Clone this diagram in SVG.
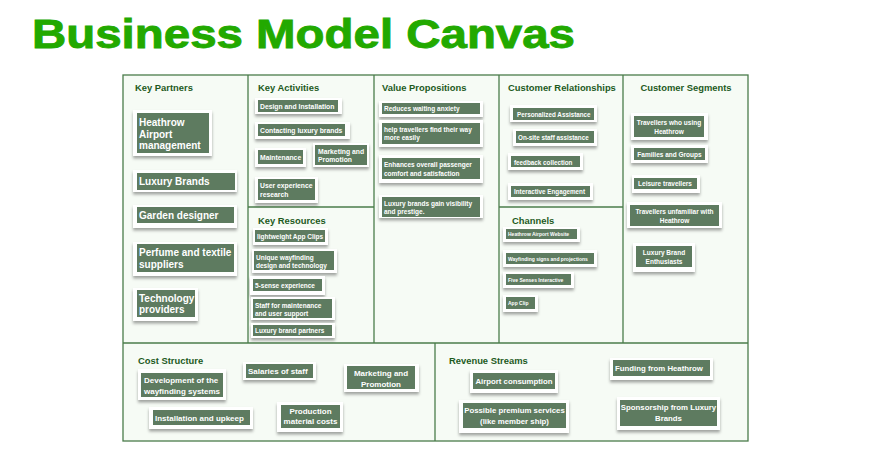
<svg xmlns="http://www.w3.org/2000/svg" width="872" height="468" viewBox="0 0 872 468">
<defs>
<filter id="sh" x="-10%" y="-20%" width="120%" height="170%">
<feDropShadow dx="0" dy="2.5" stdDeviation="1.5" flood-color="#000" flood-opacity="0.35"/>
</filter>
</defs>
<style>
.title{font-family:"Liberation Sans",Arial,sans-serif;font-weight:bold;font-size:41px;fill:#22a900;stroke:#22a900;stroke-width:0.9px}
.cell{fill:#f6fbf5;stroke:#4a7c4a;stroke-width:1.3}
.div{stroke:#4a7c4a;stroke-width:1.3;fill:none}
.hd{font-family:"Liberation Sans",Arial,sans-serif;font-weight:bold;font-size:9.4px;fill:#1d5a1d}
.card{fill:#ffffff;filter:url(#sh)}
.fill{fill:#5e7b60}
.t{font-family:"Liberation Sans",Arial,sans-serif;font-weight:bold;fill:#ffffff}
.c{text-anchor:middle}
.s10{font-size:10px}
.s8{font-size:8px}
.s78{font-size:7.8px}
.s68{font-size:6.8px}
.s65{font-size:6.5px}
.s63{font-size:6.3px}
.s5{font-size:5px}
</style>
<rect width="872" height="468" fill="#ffffff"/>
<text class="title" x="32" y="47.5" textLength="543" lengthAdjust="spacingAndGlyphs">Business Model Canvas</text>

<g id="canvas-grid">
<rect class="cell" x="123" y="75" width="625" height="366"/>
<line class="div" x1="248" y1="75" x2="248" y2="343"/>
<line class="div" x1="374" y1="75" x2="374" y2="343"/>
<line class="div" x1="499" y1="75" x2="499" y2="343"/>
<line class="div" x1="623" y1="75" x2="623" y2="343"/>
<line class="div" x1="123" y1="343" x2="748" y2="343"/>
<line class="div" x1="435" y1="343" x2="435" y2="441"/>
<line class="div" x1="248" y1="207" x2="374" y2="207"/>
<line class="div" x1="499" y1="207" x2="623" y2="207"/>
</g>

<g id="key-partners"><text class="hd" x="135" y="91">Key Partners</text></g>
<g id="key-activities"><text class="hd" x="258" y="91">Key Activities</text></g>
<g id="key-resources"><text class="hd" x="258" y="224">Key Resources</text></g>
<g id="value-propositions"><text class="hd" x="382" y="91">Value Propositions</text></g>
<g id="customer-relationships"><text class="hd" x="508" y="91">Customer Relationships</text></g>
<g id="channels"><text class="hd" x="512" y="224">Channels</text></g>
<g id="customer-segments"><text class="hd c" x="686" y="91">Customer Segments</text></g>
<g id="cost-structure"><text class="hd" x="138" y="364">Cost Structure</text></g>
<g id="revenue-streams"><text class="hd" x="449" y="364">Revenue Streams</text></g>

<!-- Key Partners notes -->
<g id="kp-heathrow"><rect class="card" x="133" y="110" width="79" height="46"/><rect class="fill" x="137" y="113" width="72" height="40"/><text class="t s10" x="139"><tspan x="139" y="126">Heathrow</tspan><tspan x="139" y="137.5">Airport</tspan><tspan x="139" y="149">management</tspan></text></g>
<g id="kp-luxury"><rect class="card" x="133" y="170" width="104" height="22"/><rect class="fill" x="137" y="173" width="98" height="17"/><text class="t s10" x="139" y="185">Luxury Brands</text></g>
<g id="kp-garden"><rect class="card" x="133" y="205" width="104" height="23"/><rect class="fill" x="137" y="207" width="97" height="16"/><text class="t s10" x="139" y="219">Garden designer</text></g>
<g id="kp-perfume"><rect class="card" x="133" y="242" width="104" height="34"/><rect class="fill" x="137" y="244" width="97" height="28"/><text class="t s10"><tspan x="139" y="256">Perfume and textile</tspan><tspan x="139" y="267.5">suppliers</tspan></text></g>
<g id="kp-tech"><rect class="card" x="133" y="288" width="65" height="33"/><rect class="fill" x="137" y="290" width="58" height="27"/><text class="t s10"><tspan x="139" y="301.5">Technology</tspan><tspan x="139" y="313">providers</tspan></text></g>

<!-- Key Activities notes -->
<g id="ka-design"><rect class="card" x="255" y="98" width="87" height="16"/><rect class="fill" x="258" y="100" width="80" height="12"/><text class="t s68" x="260" y="108.8">Design and Installation</text></g>
<g id="ka-contacting"><rect class="card" x="255" y="122" width="95" height="17"/><rect class="fill" x="258" y="124" width="87" height="12"/><text class="t s68" x="260" y="132.8">Contacting luxury brands</text></g>
<g id="ka-maintenance"><rect class="card" x="255" y="148" width="51" height="19"/><rect class="fill" x="258" y="150" width="45" height="14"/><text class="t s68" x="260" y="159.8">Maintenance</text></g>
<g id="ka-marketing"><rect class="card" x="313" y="143" width="56" height="24"/><rect class="fill" x="315" y="145" width="52" height="20"/><text class="t s68"><tspan x="318" y="153.5">Marketing and</tspan><tspan x="318" y="162">Promotion</tspan></text></g>
<g id="ka-ux"><rect class="card" x="255" y="177" width="63" height="26"/><rect class="fill" x="258" y="179" width="57" height="21"/><text class="t s68"><tspan x="260" y="188">User experience</tspan><tspan x="260" y="196.5">research</tspan></text></g>

<!-- Key Resources notes -->
<g id="kr-appclips"><rect class="card" x="253" y="228" width="75" height="17"/><rect class="fill" x="255" y="230" width="70" height="12"/><text class="t s65" x="257" y="238.8">lightweight App Clips</text></g>
<g id="kr-wayfinding"><rect class="card" x="252" y="249" width="85" height="24"/><rect class="fill" x="254" y="251" width="80" height="19"/><text class="t s65"><tspan x="256" y="259.5">Unique wayfinding</tspan><tspan x="256" y="267.8">design and technology</tspan></text></g>
<g id="kr-5sense"><rect class="card" x="250" y="276" width="75" height="19"/><rect class="fill" x="253" y="279" width="69" height="12"/><text class="t s65" x="255" y="287.8">5-sense experience</text></g>
<g id="kr-staff"><rect class="card" x="251" y="297" width="84" height="23"/><rect class="fill" x="253" y="299" width="79" height="19"/><text class="t s65"><tspan x="255" y="307.5">Staff for maintenance</tspan><tspan x="255" y="315.8">and user support</tspan></text></g>
<g id="kr-luxury"><rect class="card" x="251" y="323" width="84" height="15"/><rect class="fill" x="253" y="325" width="79" height="11"/><text class="t s65" x="255" y="333">Luxury brand partners</text></g>

<!-- Value Propositions notes -->
<g id="vp-anxiety"><rect class="card" x="379" y="101" width="104" height="16"/><rect class="fill" x="382" y="103" width="98" height="11"/><text class="t s65" x="384" y="111.3">Reduces waiting anxiety</text></g>
<g id="vp-find"><rect class="card" x="379" y="120" width="104" height="27"/><rect class="fill" x="382" y="123" width="98" height="21"/><text class="t s65"><tspan x="384" y="131.5">help travellers find their way</tspan><tspan x="384" y="140">more easily</tspan></text></g>
<g id="vp-comfort"><rect class="card" x="379" y="155" width="104" height="28"/><rect class="fill" x="382" y="158" width="98" height="21"/><text class="t s65"><tspan x="384" y="167">Enhances overall passenger</tspan><tspan x="384" y="175.5">comfort and satisfaction</tspan></text></g>
<g id="vp-luxury"><rect class="card" x="379" y="195" width="104" height="23"/><rect class="fill" x="382" y="197" width="98" height="20"/><text class="t s65"><tspan x="384" y="205.5">Luxury brands gain visibility</tspan><tspan x="384" y="214">and prestige.</tspan></text></g>

<!-- Customer Relationships notes -->
<g id="cr-personal"><rect class="card" x="510" y="105" width="87" height="17"/><rect class="fill" x="513" y="108" width="81" height="12"/><text class="t s63" x="517" y="116.5">Personalized Assistance</text></g>
<g id="cr-onsite"><rect class="card" x="513" y="129" width="84" height="17"/><rect class="fill" x="516" y="131" width="78" height="12"/><text class="t s63" x="518" y="139.8">On-site staff assistance</text></g>
<g id="cr-feedback"><rect class="card" x="508" y="153" width="75" height="17"/><rect class="fill" x="511" y="156" width="69" height="11"/><text class="t s63" x="514" y="164.5">feedback collection</text></g>
<g id="cr-interactive"><rect class="card" x="508" y="183" width="85" height="17"/><rect class="fill" x="511" y="186" width="79" height="11"/><text class="t s63" x="514" y="194">Interactive Engagement</text></g>

<!-- Channels notes -->
<g id="ch-website"><rect class="card" x="503" y="227" width="77" height="15"/><rect class="fill" x="506" y="229" width="71" height="10"/><text class="t s5" x="508" y="236">Heathrow Airport Website</text></g>
<g id="ch-signs"><rect class="card" x="503" y="250" width="94" height="17"/><rect class="fill" x="506" y="253" width="88" height="11"/><text class="t s5" x="508" y="260.5">Wayfinding signs and projections</text></g>
<g id="ch-fivesenses"><rect class="card" x="503" y="272" width="71" height="16"/><rect class="fill" x="506" y="274" width="65" height="11"/><text class="t s5" x="508" y="281.5">Five Senses Interactive</text></g>
<g id="ch-appclip"><rect class="card" x="503" y="295" width="35" height="17"/><rect class="fill" x="506" y="297" width="29" height="12"/><text class="t s5" x="508" y="305">App Clip</text></g>

<!-- Customer Segments notes -->
<g id="cs-heathrow"><rect class="card" x="631" y="113" width="77" height="27"/><rect class="fill" x="634" y="116" width="70" height="21"/><text class="t s65 c"><tspan x="669" y="125">Travellers who using</tspan><tspan x="669" y="133.5">Heathrow</tspan></text></g>
<g id="cs-families"><rect class="card" x="631" y="145" width="77" height="18"/><rect class="fill" x="634" y="148" width="71" height="12"/><text class="t s65 c" x="669.5" y="156.5">Families and Groups</text></g>
<g id="cs-leisure"><rect class="card" x="632" y="175" width="68" height="18"/><rect class="fill" x="634" y="178" width="63" height="11"/><text class="t s65 c" x="665" y="186">Leisure travellers</text></g>
<g id="cs-unfamiliar"><rect class="card" x="627" y="202" width="95" height="26"/><rect class="fill" x="630" y="205" width="89" height="21"/><text class="t s65 c"><tspan x="674.5" y="214">Travellers unfamiliar with</tspan><tspan x="674.5" y="222.5">Heathrow</tspan></text></g>
<g id="cs-luxury"><rect class="card" x="633" y="243" width="62" height="29"/><rect class="fill" x="636" y="246" width="56" height="21"/><text class="t s65 c"><tspan x="664" y="255">Luxury Brand</tspan><tspan x="664" y="263.5">Enthusiasts</tspan></text></g>

<!-- Cost Structure notes -->
<g id="cost-development"><rect class="card" x="138" y="369" width="88" height="31"/><rect class="fill" x="141" y="373" width="82" height="24"/><text class="t s8"><tspan x="144" y="383">Development of the</tspan><tspan x="144" y="393.5">wayfinding systems</tspan></text></g>
<g id="cost-salaries"><rect class="card" x="243" y="362" width="73" height="18"/><rect class="fill" x="246" y="364" width="67" height="14"/><text class="t s8" x="248" y="374">Salaries of staff</text></g>
<g id="cost-marketing"><rect class="card" x="344" y="364" width="75" height="28"/><rect class="fill" x="347" y="366" width="68" height="23"/><text class="t s8 c"><tspan x="381" y="376">Marketing and</tspan><tspan x="381" y="386.5">Promotion</tspan></text></g>
<g id="cost-installation"><rect class="card" x="149" y="407" width="104" height="22"/><rect class="fill" x="153" y="410" width="97" height="15"/><text class="t s8" x="155" y="420.5">Installation and upkeep</text></g>
<g id="cost-production"><rect class="card" x="277" y="402" width="66" height="30"/><rect class="fill" x="281" y="405" width="59" height="23"/><text class="t s8 c"><tspan x="310.5" y="414">Production</tspan><tspan x="310.5" y="424">material costs</tspan></text></g>

<!-- Revenue Streams notes -->
<g id="rev-airport"><rect class="card" x="470" y="370" width="88" height="23"/><rect class="fill" x="473" y="373" width="82" height="16"/><text class="t s78 c" x="514" y="384">Airport consumption</text></g>
<g id="rev-premium"><rect class="card" x="459" y="400" width="110" height="33"/><rect class="fill" x="463" y="403" width="103" height="25"/><text class="t s78 c"><tspan x="514.5" y="413">Possible premium services</tspan><tspan x="514.5" y="423.5">(like member ship)</tspan></text></g>
<g id="rev-funding"><rect class="card" x="610" y="358" width="103" height="22"/><rect class="fill" x="613" y="360" width="97" height="16"/><text class="t s78" x="615" y="371">Funding from Heathrow</text></g>
<g id="rev-sponsorship"><rect class="card" x="617" y="397" width="103" height="33"/><rect class="fill" x="620" y="400" width="97" height="26"/><text class="t s78 c"><tspan x="668.5" y="410">Sponsorship from Luxury</tspan><tspan x="668.5" y="420.5">Brands</tspan></text></g>
</svg>
